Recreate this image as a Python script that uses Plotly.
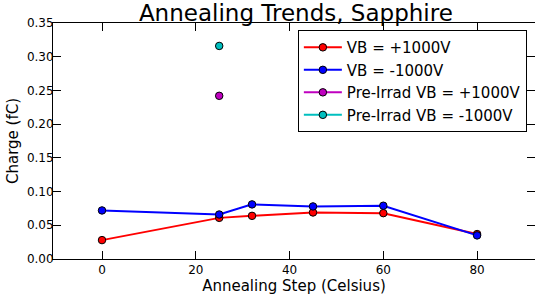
import plotly.graph_objects as go

steps = [0, 25, 32, 45, 60, 80]
vb_pos = [0.028, 0.061, 0.064, 0.069, 0.068, 0.037]
vb_neg = [0.072, 0.066, 0.081, 0.078, 0.079, 0.035]
pre_step = [25]
pre_pos = [0.242]
pre_neg = [0.316]

names = ["VB = +1000V", "VB = -1000V", "Pre-Irrad VB = +1000V", "Pre-Irrad VB = -1000V"]
colors = ["#ff0000", "#0000ff", "#bf00bf", "#00bfbf"]

FONT = "DejaVu Sans"
fig = go.Figure()
series = [(steps, vb_pos), (steps, vb_neg), (pre_step, pre_pos), (pre_step, pre_neg)]
for (xs, ys), nm, c in zip(series, names, colors):
    fig.add_trace(go.Scatter(
        x=xs, y=ys, name=nm, mode="lines+markers",
        line=dict(color=c, width=2),
        marker=dict(color=c, size=7.5, line=dict(color="black", width=1)),
    ))

# invisible trace to carry the mirrored (top / right) tick axes
fig.add_trace(go.Scatter(x=[0], y=[0], xaxis="x2", yaxis="y2", showlegend=False,
                         mode="markers", marker=dict(opacity=0), hoverinfo="skip"))

xr = [-10.45, 92.35]
yr = [0, 0.35]
fig.update_layout(
    width=535, height=300,
    margin=dict(l=53, r=0, t=23, b=41, autoexpand=False),
    paper_bgcolor="white", plot_bgcolor="white",
    font=dict(family=FONT, size=12, color="black"),
    title=dict(text="Annealing Trends, Sapphire", x=0.553, xanchor="center",
               yref="container", y=0.985, yanchor="top", pad=dict(t=0, b=0),
               font=dict(size=23, family=FONT)),
    xaxis=dict(range=xr, tickvals=[0, 20, 40, 60, 80], ticks="inside", ticklen=8,
               tickcolor="black", showline=True, linecolor="black", linewidth=1,
               mirror=True, showgrid=False, zeroline=False, automargin=False,
               title=dict(text="Annealing Step (Celsius)", font=dict(size=15), standoff=0),
               tickfont=dict(size=12)),
    yaxis=dict(range=yr, tickvals=[0, 0.05, 0.1, 0.15, 0.2, 0.25, 0.3, 0.35],
               tickformat=".2f", ticks="inside", ticklen=8, tickcolor="black",
               showline=True, linecolor="black", linewidth=1, showgrid=False,
               zeroline=False, automargin=False, ticklabelstandoff=-4,
               title=dict(text="Charge (fC)", font=dict(size=15), standoff=4),
               tickfont=dict(size=12)),
    xaxis2=dict(range=xr, overlaying="x", side="top", tickvals=[0, 20, 40, 60, 80],
                ticks="inside", ticklen=8, tickcolor="black", showticklabels=False,
                showline=False, showgrid=False, zeroline=False, automargin=False),
    yaxis2=dict(range=yr, overlaying="y", side="right",
                tickvals=[0, 0.05, 0.1, 0.15, 0.2, 0.25, 0.3, 0.35],
                ticks="inside", ticklen=8, tickcolor="black", showticklabels=False,
                showline=False, showgrid=False, zeroline=False, automargin=False),
    legend=dict(x=0.508, y=0.97, xanchor="left", yanchor="top",
                bordercolor="black", borderwidth=1, bgcolor="white",
                font=dict(size=15, family=FONT), tracegroupgap=0,
                itemwidth=38),
)
fig.write_html("out.html", config={"displayModeBar": False},
               post_script="document.body.style.margin='0';document.body.style.overflow='hidden';")
